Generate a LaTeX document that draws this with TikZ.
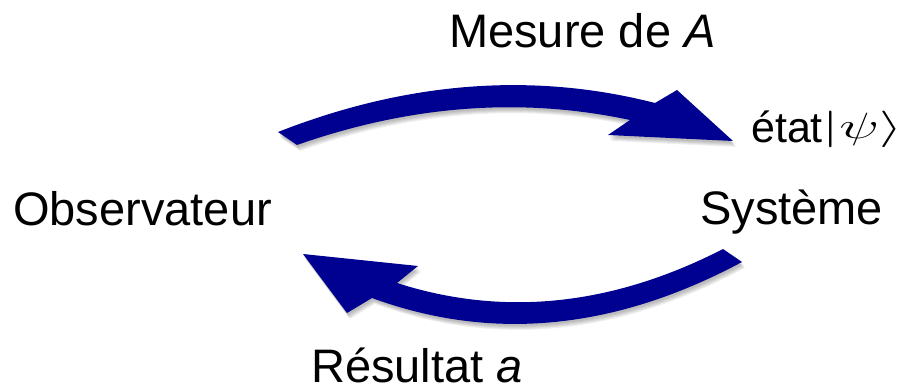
\RequirePackage{fix-cm}
\documentclass[tikz,border=0pt]{standalone}
\usepackage{graphicx}
\usepackage{fontspec}
\setmainfont{Liberation Sans}
\definecolor{arrowblue}{RGB}{0,0,145}
\begin{document}
\begin{tikzpicture}[x=1pt,y=-1pt,
  lbl/.style={inner sep=0pt,anchor=base west,font=\fontsize{47}{56}\selectfont},
  arr/.style={fill=arrowblue},
  shd/.style={fill=black,opacity=0.06}]
\useasboundingbox (0,0) rectangle (913,388);
\def\toparrow{(278,132) .. controls (408,81) and (534,72) .. (655,103) -- (677,90) -- (733,141) -- (608,135) -- (630,120) .. controls (522,97) and (411,105) .. (297,145) -- cycle}
\def\botarrow{(723,249) .. controls (612,306) and (503,317) .. (397,283) -- (418,266) -- (303,254) -- (347,313) -- (372,298) .. controls (492,342) and (615,330) .. (742,262) -- cycle}
% soft shadows
\foreach \d in {2,3,4,5,6}{
  \fill[shd,shift={(0.5*\d,\d)}] \toparrow;
  \fill[shd,shift={(0.5*\d,\d)}] \botarrow;
}
\fill[arr] \toparrow;
\fill[arr] \botarrow;
\node[lbl] (mesure) at (449,47) {Mesure de \textit{A}};
\node[lbl] (obs) at (13,225) {Observateur};
\node[lbl] (sys) at (700,224) {Système};
\node[lbl] (res) at (311,382) {Résultat \textit{a}};
\node[lbl,font=\fontsize{43}{50}\selectfont] (etat) at (751,142) {état\raisebox{3.5pt}{\scalebox{1.38}[0.85]{$|\psi\rangle$}}};
\end{tikzpicture}
\end{document}
